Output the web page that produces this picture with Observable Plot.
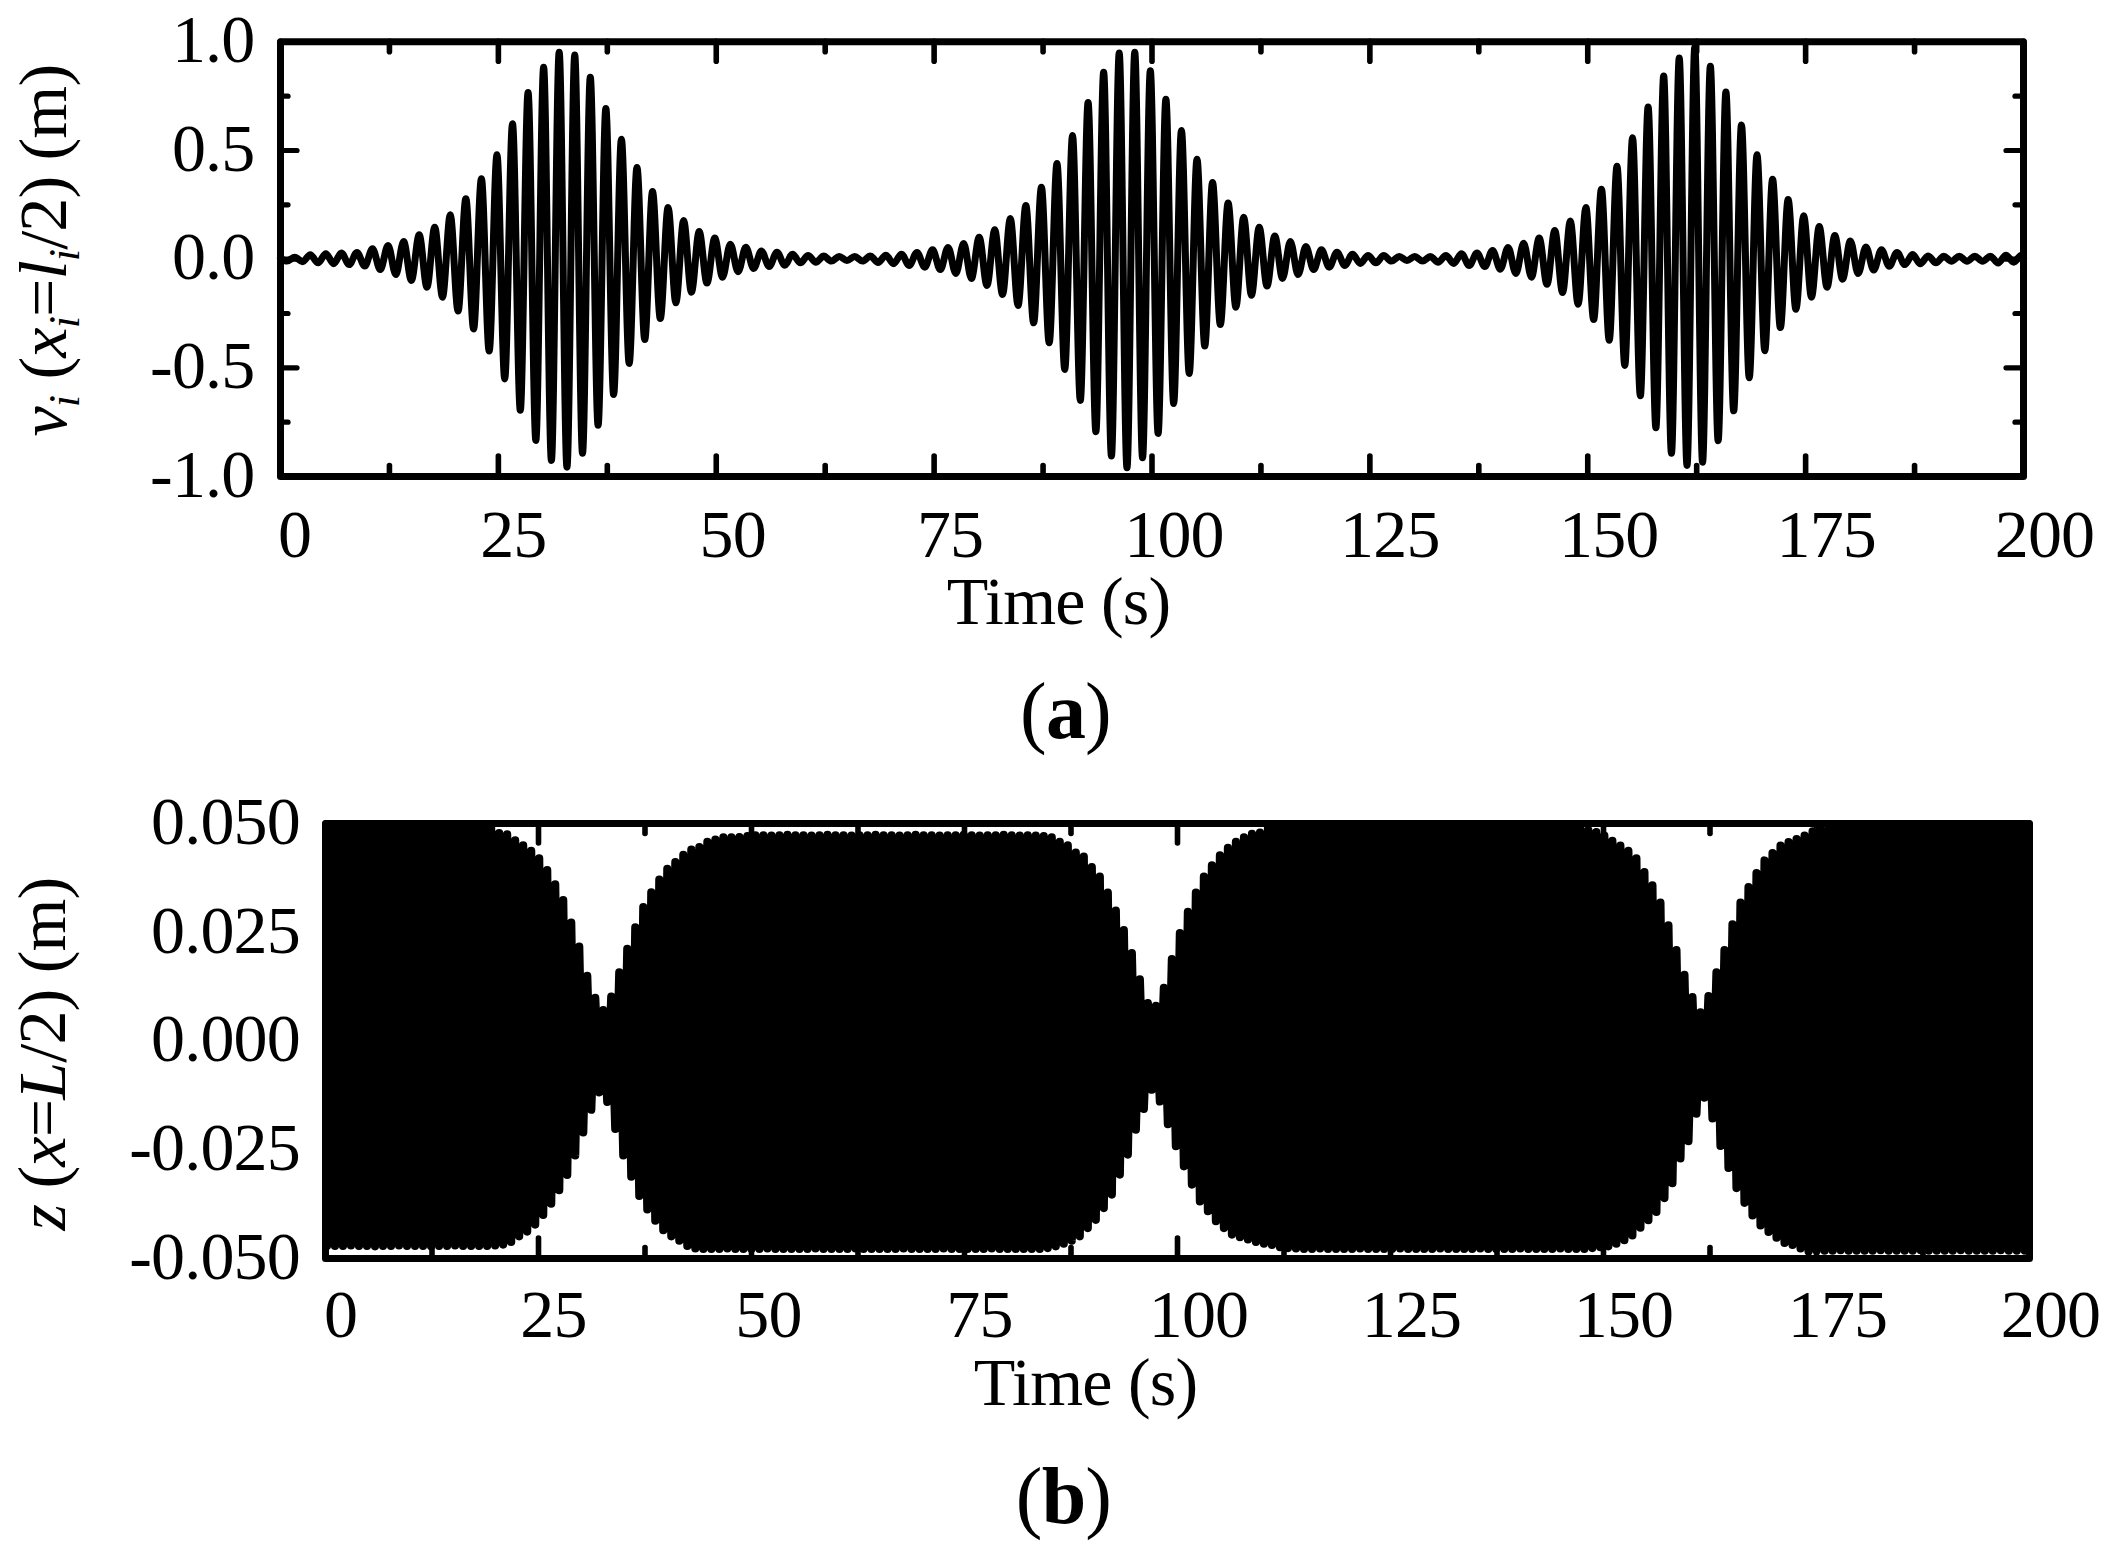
<!DOCTYPE html>
<html>
<head>
<meta charset="utf-8">
<style>html,body{margin:0;padding:0;background:#fff}svg{display:block}</style>
<script src="https://cdn.jsdelivr.net/npm/d3@7"></script>
<script src="https://cdn.jsdelivr.net/npm/@observablehq/plot@0.6"></script>
</head>
<body>
<div id="chart"></div>
<script>
// Panel (a): crest and trough heights of v_i, one per oscillation
const vCrests = [
  .009,.02,.025,.028,.031,.048,.063,.081,.112,.147,.204,.278,.37,.48,.623,.767,.883,.952,.939,.837,.693,.552,.422,.311,.238,.178,.127,
  .097,.069,.055,.037,.032,.023,.017,.014,.012,.012,.014,.018,.023,.031,.043,.054,.072,.101,.135,.187,.247,.331,.44,.569,.721,.86,
  .948,.952,.867,.736,.592,.46,.353,.258,.193,.147,.107,.081,.058,.043,.032,.023,.017,.017,.012,.012,.012,.017,.025,.028,.04,.054,
  .073,.097,.132,.175,.238,.322,.427,.558,.70,.843,.926,.975,.888,.769,.617,.48,.368,.274,.2,.15,.109,.084,.056,.043,.031,.021,.015,.013,.013,.013,.013,.018,.018
];
const vTroughs = [
  -.009,-.012,-.017,-.021,-.025,-.032,-.048,-.071,-.098,-.129,-.175,-.239,-.321,-.423,-.551,-.695,-.834,-.926,-.957,-.893,-.764,-.623,-.48,-.37,-.273,-.201,-.152,
  -.11,-.083,-.058,-.043,-.034,-.028,-.017,-.014,-.009,-.006,-.009,-.015,-.021,-.029,-.037,-.048,-.066,-.089,-.121,-.163,-.213,-.293,-.385,-.508,-.65,-.794,
  -.906,-.96,-.914,-.802,-.664,-.526,-.40,-.301,-.221,-.166,-.124,-.089,-.071,-.048,-.037,-.029,-.02,-.017,-.009,-.006,-.009,-.014,-.02,-.029,-.034,-.046,-.066,
  -.083,-.116,-.154,-.208,-.278,-.373,-.489,-.629,-.776,-.893,-.949,-.934,-.835,-.698,-.546,-.421,-.315,-.231,-.175,-.129,-.092,-.066,-.05,-.033,-.025,-.021,-.017,-.01,-.01,-.01,-.018,-.014
];
const vFirstTroughTime = 0.74, vPeriod = 1.785;

// Panel (b): crest and trough heights of z, one per oscillation
const zCrests = [
  .049,.049,.049,.049,.049,.049,.049,.049,.049,.049,.049,.049,.049,.049,.049,.049,.049,.049,.049,.049,.049,
  .0478,.0475,.0461,.045,.0437,.042,.0393,.036,.0324,.0272,.0217,.015,.0099,.0071,.0102,.0158,.0212,.0261,.0308,.0342,.0371,.0396,.0411,.0428,.044,.0446,
  .0458,.0463,.0468,.0468,.0469,.0471,
  .0473,.0473,.0472,.0473,.0474,.0473,.0473,.0472,.0473,.0474,.0473,.0473,.0472,.0473,.0473,.0474,.0473,.0473,.0472,.0473,.0474,.0473,.0473,.0472,.0473,.0473,.0474,.0473,.0472,.0473,.0473,.0474,.0473,.0472,.0473,.0472,
  .0471,.0468,.0458,.045,.0433,.0424,.04,.0378,.0341,.03,.0255,.0202,.0142,.0087,.0081,.0122,.0188,.0248,.0297,.0341,.0378,.0404,.0427,.0444,.0458,.0468,.0476,.0479,
  .049,.049,.049,.049,.049,.049,.049,.049,.049,.049,.049,.049,.049,.049,.049,.049,.049,.049,.049,.049,.049,.049,.049,.049,.049,.049,.049,.049,.049,.049,.049,.049,.049,.049,.049,.049,.049,.049,.049,.049,
  .0485,.048,
  .0472,.046,.0449,.0437,.042,.0388,.0358,.0318,.0266,.0209,.0152,.0101,.0066,.0103,.0158,.0209,.0268,.0318,.0354,.0386,.0415,.0432,.0449,.0457,.0464,.0472,
  .0482,.0487,
  .049,.049,.049,.049,.049,.049,.049,.049,.049,.049,.049,.049,.049,.049,.049,.049,.049,.049,.049,.049,.049,.049,.049,.049,.049,.049
];
const zTroughs = [
  .0471,.0471,.0471,.0470,.0471,.0471,.0472,.0471,.0471,.0470,.0471,.0471,.0471,.0472,.0471,.0471,.0470,.0471,.0471,.0471,.0471,.0470,
  .0468,.0462,.0449,.0438,.0422,.04,.0374,.0343,.0308,.0263,.021,.0158,.0118,.014,.0202,.0263,.0312,.0356,.0387,.0413,.0435,.0449,.0459,.0471,.0477,
  .0478,.0478,.0478,.0477,.0478,.0478,.0478,.0478,.0477,.0478,.0478,.0478,.0478,.0478,.0477,.0478,.0478,.0478,.0478,.0477,.0478,.0478,.0478,.0478,.0478,.0477,.0478,.0478,.0478,.0478,.0477,.0478,.0478,.0478,.0478,.0478,.0477,.0478,.0478,.0478,.0478,.0478,
  .0478,.0476,.0472,.0466,.0459,.0449,.043,.0411,.0384,.0353,.0307,.0261,.0204,.0156,.0112,.0139,.0191,.0242,.0288,.033,.0369,.0391,.0414,.043,.0445,.0451,.0456,.0462,.0466,.0469,.0474,
  .0476,.0477,.0478,.0478,.0477,.0478,.0478,.0478,.0478,.0477,.0478,.0478,.0478,.0478,.0477,.0478,.0478,.0478,.0478,.0477,.0478,.0478,.0478,.0478,.0477,.0478,.0478,.0478,.0478,.0477,.0478,.0478,.0478,.0478,.0477,.0478,.0478,.0478,
  .0476,.0474,
  .0472,.0466,.0458,.0447,.0429,.0412,.0393,.0361,.0327,.027,.023,.0167,.013,.0178,.0241,.0292,.0338,.0372,.0401,.0424,.0439,.0452,.0464,.0469,.0477,.0484,
  .0482,.0482,.0482,.0481,.0482,.0482,.0482,.0482,.0481,.0482,.0482,.0482,.0482,.0481,.0482,.0482,.0482,.0482,.0481,.0482,.0482,.0482,.0482,.0481,.0482,.0482,.0482
].map(d => -d);
const zFirstTroughTime = 0.17, zPeriod = 0.94;

// Axes
const xMajor = [0, 25, 50, 75, 100, 125, 150, 175, 200];
const xMinor = [12.5, 37.5, 62.5, 87.5, 112.5, 137.5, 162.5, 187.5];
const xLabels = ["0", "25", "50", "75", "100", "125", "150", "175", "200"];
const vMajor = [-1, -0.5, 0, 0.5, 1];
const vMinor = [-0.75, -0.25, 0.25, 0.75];
const vLabels = ["-1.0", "-0.5", "0.0", "0.5", "1.0"];
const zMajor = [-0.05, -0.025, 0, 0.025, 0.05];
const zMinor = [-0.0375, -0.0125, 0.0125, 0.0375];
const zLabels = ["-0.050", "-0.025", "0.000", "0.025", "0.050"];
const xTitle = "Time (s)";
const vTitle = "vi (xi=li/2) (m)";
const zTitle = "z (x=L/2) (m)";
const tagA = "(a)", tagB = "(b)";

// Hand placement of the tick labels, which sit off their ticks in the reference
const xNudgeA = [14, 15, 16.5, 16, 22, 20, 21, 20.6, 21];
const xNudgeB = [15, 15, 17, 15, 21, 21, 20, 21, 21];

function zigzag(troughs, crests, t0, period, ends) {
  const pts = [];
  if (ends) pts.push({t: 0, y: ends[0]});
  troughs.forEach((d, i) => {
    pts.push({t: t0 + i * period, y: d});
    pts.push({t: t0 + (i + 0.5) * period, y: crests[i]});
  });
  if (ends) pts.push({t: 200, y: ends[1]});
  return pts;
}

function panel(o) {
  const W = 2111 - o.left - o.right, H = o.height - o.top - o.bottom;
  const text = {fontSize: 68, fill: "#000", lineAnchor: "middle"};
  const rule = {stroke: "#000", strokeLinecap: "round"};
  return Plot.plot({
    width: 2111, height: o.height,
    marginLeft: o.left, marginRight: o.right, marginTop: o.top, marginBottom: o.bottom,
    style: {fontFamily: "'Liberation Serif', serif", background: "#fff", overflow: "visible", letterSpacing: "-0.8px"},
    x: {domain: [0, 200], axis: null},
    y: {domain: o.yDomain, axis: null},
    marks: [
      Plot.line(o.points, {x: "t", y: "y", stroke: "#000", strokeWidth: o.lineWidth, curve: o.curve, strokeLinejoin: "round", strokeLinecap: "round"}),
      Plot.ruleX(xMajor, {x: d => d, ...rule, strokeWidth: 5.6, insetBottom: H - o.tickMajor}),
      Plot.ruleX(xMajor, {x: d => d, ...rule, strokeWidth: 5.6, insetTop: H - o.tickMajor}),
      Plot.ruleX(xMinor, {x: d => d, ...rule, strokeWidth: 5.6, insetBottom: H - o.tickMinor}),
      Plot.ruleX(xMinor, {x: d => d, ...rule, strokeWidth: 5.6, insetTop: H - o.tickMinor}),
      Plot.ruleY(o.yMajor, {y: d => d, ...rule, strokeWidth: 5.2, insetRight: W - 17}),
      Plot.ruleY(o.yMajor, {y: d => d, ...rule, strokeWidth: 5.2, insetLeft: W - 17}),
      Plot.ruleY(o.yMinor, {y: d => d, ...rule, strokeWidth: 5.2, insetRight: W - 8}),
      Plot.ruleY(o.yMinor, {y: d => d, ...rule, strokeWidth: 5.2, insetLeft: W - 8}),
      Plot.frame({stroke: "#000", strokeWidth: 7, strokeLinejoin: "round"}),
      ...xMajor.map((t, i) => Plot.text([t], {x: d => d, text: () => xLabels[i], frameAnchor: "bottom", dy: o.xLabelDy, dx: o.xNudge[i], ...text})),
      Plot.text(o.yMajor, {y: d => d, text: (d, i) => o.yLabels[i], frameAnchor: "left", textAnchor: "end", dx: o.yDx, dy: -1.5, ...text}),
      Plot.text([xTitle], {frameAnchor: "bottom", dx: o.titleDx, dy: o.titleDy, ...text}),
      Plot.text([o.yTitle], {frameAnchor: "left", textAnchor: "middle", rotate: -90, dx: o.yTitleDx, dy: o.yTitleDy, ...text}),
      Plot.text([o.tag], {frameAnchor: "bottom", dx: o.tagDx, dy: o.tagDy, ...text, fontSize: 80})
    ]
  });
}

// Italic and subscript runs for the axis titles and the bold panel letters
function rich(svg, content, runs) {
  for (const node of svg.querySelectorAll("text")) {
    if (node.textContent !== content) continue;
    node.textContent = "";
    let shift = 0;
    for (const r of runs) {
      const s = document.createElementNS("http://www.w3.org/2000/svg", "tspan");
      s.textContent = r.t;
      if (r.i) s.setAttribute("font-style", "italic");
      if (r.b) s.setAttribute("font-weight", "bold");
      if (r.sub) s.setAttribute("font-size", 44);
      const target = r.sub ? 13 : 0;
      if (target !== shift) { s.setAttribute("dy", target - shift); shift = target; }
      node.appendChild(s);
    }
  }
}

const a = panel({
  height: 778, left: 280, right: 88, top: 41.3, bottom: 302,
  yDomain: [-1, 1], yMajor: vMajor, yMinor: vMinor, yLabels: vLabels, yDx: -26, yTitle: vTitle,
  points: zigzag(vTroughs, vCrests, vFirstTroughTime, vPeriod, [0.004, 0.006]),
  lineWidth: 7, curve: "monotone-x", tickMajor: 20, tickMinor: 10.5, xLabelDy: 59,
  xNudge: xNudgeA, titleDx: -93.5, titleDy: 126, yTitleDx: -236, yTitleDy: -8.5,
  tag: tagA, tagDx: -86.5, tagDy: 236
});
const b = panel({
  height: 779, left: 325, right: 82, top: 45, bottom: 299,
  yDomain: [-0.05, 0.05], yMajor: zMajor, yMinor: zMinor, yLabels: zLabels, yDx: -25.5, yTitle: zTitle,
  points: zigzag(zTroughs, zCrests, zFirstTroughTime, zPeriod, null),
  lineWidth: 8.2, curve: "linear", tickMajor: 20, tickMinor: 10.5, xLabelDy: 56.5,
  xNudge: xNudgeB, titleDx: -92, titleDy: 125, yTitleDx: -282, yTitleDy: 13,
  tag: tagB, tagDx: -114, tagDy: 239
});

rich(a, vTitle, [{t: "v", i: 1}, {t: "i", i: 1, sub: 1}, {t: " ("}, {t: "x", i: 1}, {t: "i", i: 1, sub: 1}, {t: "="}, {t: "l", i: 1}, {t: "i", i: 1, sub: 1}, {t: "/2) (m)"}]);
rich(b, zTitle, [{t: "z", i: 1}, {t: " ("}, {t: "x", i: 1}, {t: "="}, {t: "L", i: 1}, {t: "/2) (m)"}]);
rich(a, tagA, [{t: "("}, {t: "a", b: 1}, {t: ")"}]);
rich(b, tagB, [{t: "("}, {t: "b", b: 1}, {t: ")"}]);

const host = document.getElementById("chart");
host.appendChild(a);
host.appendChild(b);
</script>
</body>
</html>
